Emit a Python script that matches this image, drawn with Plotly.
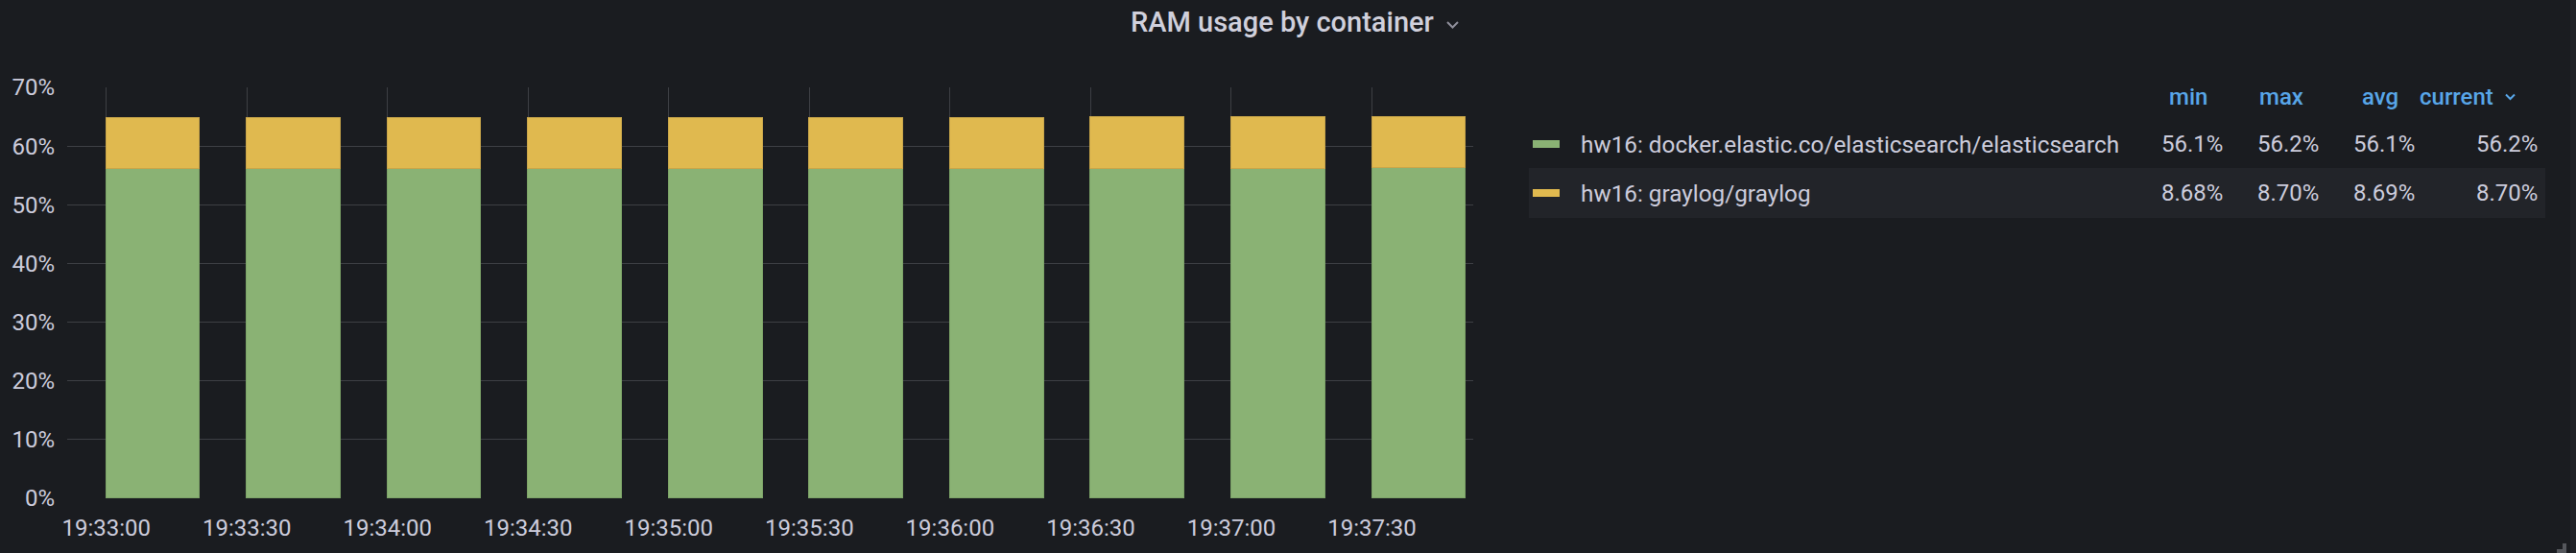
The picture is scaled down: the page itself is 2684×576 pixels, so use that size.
import plotly.graph_objects as go

# ---------------- data ----------------
day = "2024-01-01 "
times = ["19:33:00", "19:33:30", "19:34:00", "19:34:30", "19:35:00",
         "19:35:30", "19:36:00", "19:36:30", "19:37:00", "19:37:30"]
elastic = [56.12, 56.10, 56.11, 56.13, 56.12, 56.14, 56.15, 56.16, 56.18, 56.20]
graylog = [8.68, 8.68, 8.69, 8.69, 8.69, 8.69, 8.69, 8.70, 8.70, 8.70]
series_names = ["hw16: docker.elastic.co/elasticsearch/elasticsearch",
                "hw16: graylog/graylog"]
series_colors = ["#8AB274", "#E0B94F"]
series_lines = ["#7DA468", "#C9A64A"]
stat_headers = ["min", "max", "avg", "current"]
title_text = "RAM usage by container"

# ---------------- style ----------------
BG = "#1a1c20"
TXT = "#ccccdc"
GRID = "#3d3f44"
BLUE = "#58a6e8"
FONT = "Roboto"

W, H = 2684, 576
L, R, T, B = 70, 1535, 91, 519


def px(x):
    return (x - L) / (R - L)


def py(y):
    return (B - y) / (B - T)


xs = [day + t for t in times]

fig = go.Figure()
for vals, name, col, lc in zip([elastic, graylog], series_names, series_colors, series_lines):
    fig.add_trace(go.Bar(
        x=xs, y=vals, name=name, width=20000, offset=0,
        marker=dict(color=col, line=dict(color=lc, width=1)),
        showlegend=False, hoverinfo="skip",
    ))

fig.update_layout(
    width=W, height=H,
    margin=dict(l=L, r=W - R, t=T, b=H - B, pad=0),
    paper_bgcolor=BG, plot_bgcolor=BG,
    barmode="stack", bargap=0,
    font=dict(family=FONT, color=TXT, size=24),
    xaxis=dict(
        type="date",
        range=[day + "19:32:51.67", day + "19:37:51.6"],
        tick0=day + "19:33:00", dtick=30000, tickformat="%H:%M:%S",
        showgrid=True, gridcolor=GRID, gridwidth=1,
        zeroline=False, showline=False, ticks="",
        tickfont=dict(size=24, color=TXT),
        ticklabelstandoff=14,
        fixedrange=True,
    ),
    yaxis=dict(
        range=[0, 70], dtick=10, ticksuffix="%",
        showgrid=True, gridcolor=GRID, gridwidth=1,
        zeroline=False, showline=False, ticks="",
        tickfont=dict(size=24, color=TXT),
        ticklabelstandoff=12,
        fixedrange=True,
    ),
)

ann = []
shapes = []

# title
ann.append(dict(xref="paper", yref="paper", x=px(1336), y=py(23), text=title_text,
                showarrow=False, xanchor="center", yanchor="middle",
                font=dict(size=29, color="#d0d0dc", family=FONT, weight=500)))
shapes.append(dict(type="path", xref="paper", yref="paper",
                   path=f"M {px(1508)},{py(23)} L {px(1513.5)},{py(28.5)} L {px(1519)},{py(23)}",
                   line=dict(color="#8e8e9a", width=2)))

# legend table
stats = []
for vals in [elastic, graylog]:
    stats.append([min(vals), max(vals), sum(vals) / len(vals), vals[-1]])


def fmt(v):
    return f"{v:.1f}%" if v >= 10 else f"{v:.2f}%"


val_right = [2318, 2418, 2518, 2646]
head_right = [2302, 2402, 2501, 2600]
row_y = [150, 201]

# highlighted second row
shapes.append(dict(type="rect", xref="paper", yref="paper", layer="below",
                   x0=px(1593), x1=px(2652), y0=py(175), y1=py(227),
                   fillcolor="#222429", line=dict(width=0)))

for h, xr in zip(stat_headers, head_right):
    ann.append(dict(xref="paper", yref="paper", x=px(xr), y=py(101), text=h,
                    showarrow=False, xanchor="right", yanchor="middle",
                    font=dict(size=24, color=BLUE, family=FONT, weight=500)))
shapes.append(dict(type="path", xref="paper", yref="paper",
                   path=f"M {px(2611)},{py(98.5)} L {px(2615.5)},{py(103)} L {px(2620)},{py(98.5)}",
                   line=dict(color=BLUE, width=2)))

for i, (name, col) in enumerate(zip(series_names, series_colors)):
    yy = row_y[i]
    shapes.append(dict(type="rect", xref="paper", yref="paper",
                       x0=px(1597), x1=px(1625), y0=py(yy - 4), y1=py(yy + 4),
                       fillcolor=col, line=dict(width=0)))
    ann.append(dict(xref="paper", yref="paper", x=px(1645), y=py(yy), text=name,
                    showarrow=False, xanchor="left", yanchor="middle",
                    font=dict(size=24.3, color=TXT, family=FONT)))
    for v, xr in zip(stats[i], val_right):
        ann.append(dict(xref="paper", yref="paper", x=px(xr), y=py(yy), text=fmt(v),
                        showarrow=False, xanchor="right", yanchor="middle",
                        font=dict(size=24, color=TXT, family=FONT)))

# right edge strip and resize handle in corner
shapes.append(dict(type="rect", xref="paper", yref="paper", layer="below",
                   x0=px(2678), x1=px(2684), y0=py(0), y1=py(576),
                   fillcolor="#212327", line=dict(width=0)))
shapes.append(dict(type="rect", xref="paper", yref="paper",
                   x0=px(2670), x1=px(2674), y0=py(576), y1=py(566),
                   fillcolor="#55575c", line=dict(width=0)))
shapes.append(dict(type="rect", xref="paper", yref="paper",
                   x0=px(2664), x1=px(2674), y0=py(576), y1=py(572),
                   fillcolor="#55575c", line=dict(width=0)))

fig.update_layout(annotations=ann, shapes=shapes)
fig.write_html(
    "out.html",
    config={"displayModeBar": False},
    post_script="document.body.style.margin='0';document.body.style.overflow='hidden';"
                "document.body.style.background='" + BG + "';",
)
